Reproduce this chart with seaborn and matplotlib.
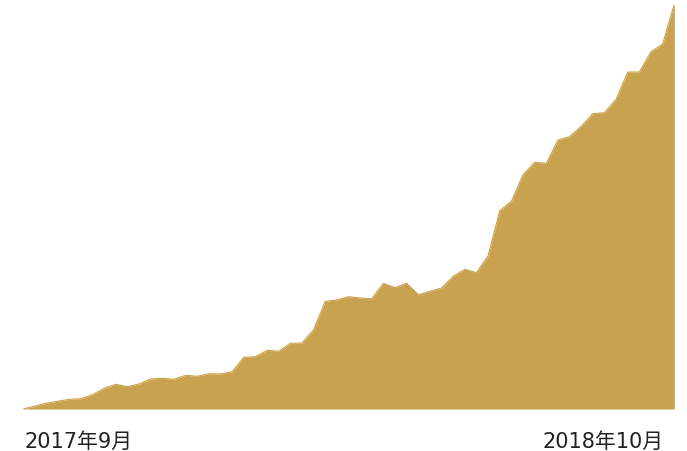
import matplotlib
matplotlib.use("Agg")
import matplotlib.pyplot as plt
import matplotlib.transforms as mtransforms
import seaborn as sns
import pandas as pd

weeks = list(range(57))
values = [0, 2.7, 5.7, 7.7, 9.7, 10.3, 14.3, 20.7, 24.7, 22.3,
          25, 30, 30.7, 29.7, 33.7, 32.7, 35.3, 35, 37.3, 51.7,
          52.3, 58.7, 57.7, 65.7, 66, 79.3, 107.7, 109, 112.3, 111,
          110.3, 125.7, 121.3, 125.7, 114.3, 117.7, 121, 132.7, 139.7, 136.3,
          153.3, 198.3, 207.7, 234.3, 246.7, 245.7, 269, 272.3, 282.7, 295.3,
          296.3, 309.7, 337, 337, 357.3, 365, 405]
tick_labels = ["2017年9月", "2018年10月"]
color = "#C9A250"

sns.set_theme(style="white")
plt.rcParams['font.family'] = ['DejaVu Sans', 'Noto Sans CJK JP']

df = pd.DataFrame({"week": weeks, "value": values})

fig = plt.figure(figsize=(6.87, 4.52), dpi=100)
ax = fig.add_axes([22.7/687, 42/452, (674.3-22.7)/687, 405/452])
sns.lineplot(data=df, x="week", y="value", ax=ax, color=color, linewidth=0.8)
ax.fill_between(df["week"], 0, df["value"], color=color, linewidth=0)
ax.set_xlim(weeks[0], weeks[-1])
ax.set_ylim(0, 405)
ax.set_yticks([])
ax.set_xlabel("")
ax.set_ylabel("")
for s in ax.spines.values():
    s.set_visible(False)
ax.set_xticks([weeks[0], weeks[-1]])
ax.set_xticklabels(tick_labels, fontsize=15, color="#222222")
ax.tick_params(axis="x", length=0, pad=15.5)
labs = ax.get_xticklabels()
labs[0].set_ha("left")
labs[1].set_ha("right")
labs[0].set_transform(labs[0].get_transform() + mtransforms.ScaledTranslation(2/100, 0, fig.dpi_scale_trans))
labs[1].set_transform(labs[1].get_transform() + mtransforms.ScaledTranslation(-11/100, 0, fig.dpi_scale_trans))

fig.savefig("out.png", dpi=100)
